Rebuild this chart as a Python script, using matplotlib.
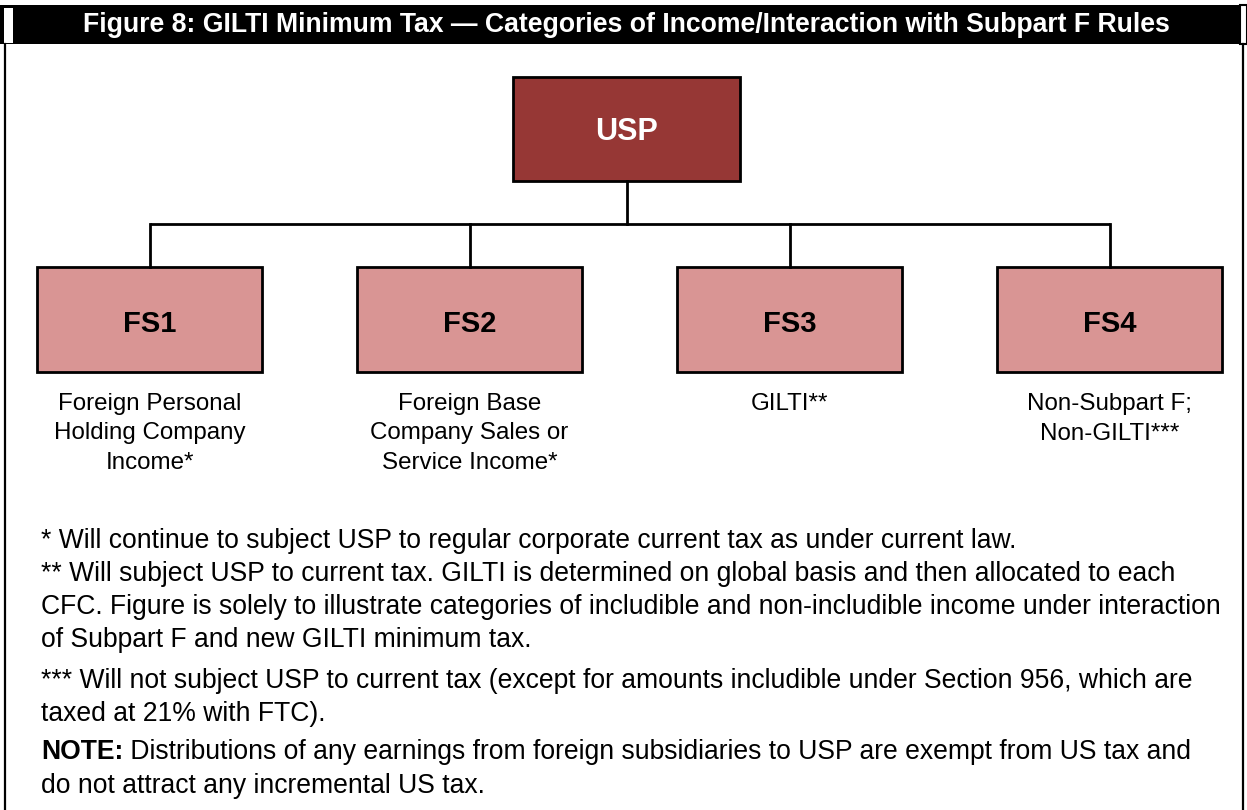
import matplotlib
matplotlib.use("Agg")
import matplotlib.pyplot as plt
from matplotlib.patches import Rectangle

plt.rcParams['font.family'] = ['Liberation Sans', 'DejaVu Sans']

title = "Figure 8: GILTI Minimum Tax \u2014 Categories of Income/Interaction with Subpart F Rules"
parent = "USP"
children = ["FS1", "FS2", "FS3", "FS4"]
child_desc = ["Foreign Personal\nHolding Company\nIncome*",
              "Foreign Base\nCompany Sales or\nService Income*",
              "GILTI**",
              "Non-Subpart F;\nNon-GILTI***"]
footnotes = [
    "* Will continue to subject USP to regular corporate current tax as under current law.",
    "** Will subject USP to current tax. GILTI is determined on global basis and then allocated to each",
    "CFC. Figure is solely to illustrate categories of includible and non-includible income under interaction",
    "of Subpart F and new GILTI minimum tax.",
    "*** Will not subject USP to current tax (except for amounts includible under Section 956, which are",
    "taxed at 21% with FTC).",
]
note_label = "NOTE:"
note_lines = [" Distributions of any earnings from foreign subsidiaries to USP are exempt from US tax and",
              "do not attract any incremental US tax."]

W, H = 1247, 810
fig = plt.figure(figsize=(W / 100, H / 100), dpi=100)
ax = fig.add_axes([0, 0, 1, 1])
ax.set_xlim(0, W)
ax.set_ylim(H, 0)
ax.axis('off')

# outer frame
ax.plot([4.5, 4.5], [44, H + 5], color='black', lw=1.6)
ax.plot([1243, 1243], [44, H + 5], color='black', lw=1.6)

# header bar
ax.add_patch(Rectangle((0, 5), 1240, 39, facecolor='black', edgecolor='none'))
ax.add_patch(Rectangle((4, 8), 9, 35, facecolor='white', edgecolor='none'))
ax.add_patch(Rectangle((1240, 5), 7, 39, facecolor='white', edgecolor='black', lw=1.5))
ax.text(626, 32.5, title, color='white', fontsize=19.2, fontweight='bold',
        ha='center', va='baseline')

# parent box
px, pw, py, ph = 513, 227, 77, 104
pcx = px + pw / 2
ax.add_patch(Rectangle((px, py), pw, ph, facecolor='#963735', edgecolor='black', lw=2))
ax.text(pcx, 140, parent, color='white', fontsize=22, fontweight='bold',
        ha='center', va='baseline')

# children
cw, ch, cy = 225, 105, 267
cxs = [37, 357, 677, 997]
centers = [x + cw / 2 for x in cxs]
bar_y = 224
ax.plot([pcx, pcx], [py + ph, bar_y], color='black', lw=2)
ax.plot([centers[0], centers[-1]], [bar_y, bar_y], color='black', lw=2, solid_capstyle='butt')
for x, c, lab, desc in zip(cxs, centers, children, child_desc):
    ax.plot([c, c], [bar_y, cy], color='black', lw=2)
    ax.add_patch(Rectangle((x, cy), cw, ch, facecolor='#d99594', edgecolor='black', lw=2))
    ax.text(c, 332, lab, color='black', fontsize=21, fontweight='bold',
            ha='center', va='baseline')
    for i, line in enumerate(desc.split('\n')):
        ax.text(c, 410 + i * 29.5, line, color='black', fontsize=17.4,
                ha='center', va='baseline')

# footnotes
fy = [548, 581, 614, 647, 688, 721]
for y, t in zip(fy, footnotes):
    ax.text(41, y, t, fontsize=19.1, ha='left', va='baseline', color='black')

note_y = [759, 793]
nt = ax.text(41, note_y[0], note_label, fontsize=19.1, fontweight='bold', ha='left', va='baseline')
fig.canvas.draw()
bb = nt.get_window_extent(renderer=fig.canvas.get_renderer())
x_end = ax.transData.inverted().transform((bb.x1, bb.y0))[0]
ax.text(x_end, note_y[0], note_lines[0], fontsize=19.1, ha='left', va='baseline')
ax.text(41, note_y[1], note_lines[1], fontsize=19.1, ha='left', va='baseline')

fig.savefig("out.png", dpi=100, facecolor='white')
